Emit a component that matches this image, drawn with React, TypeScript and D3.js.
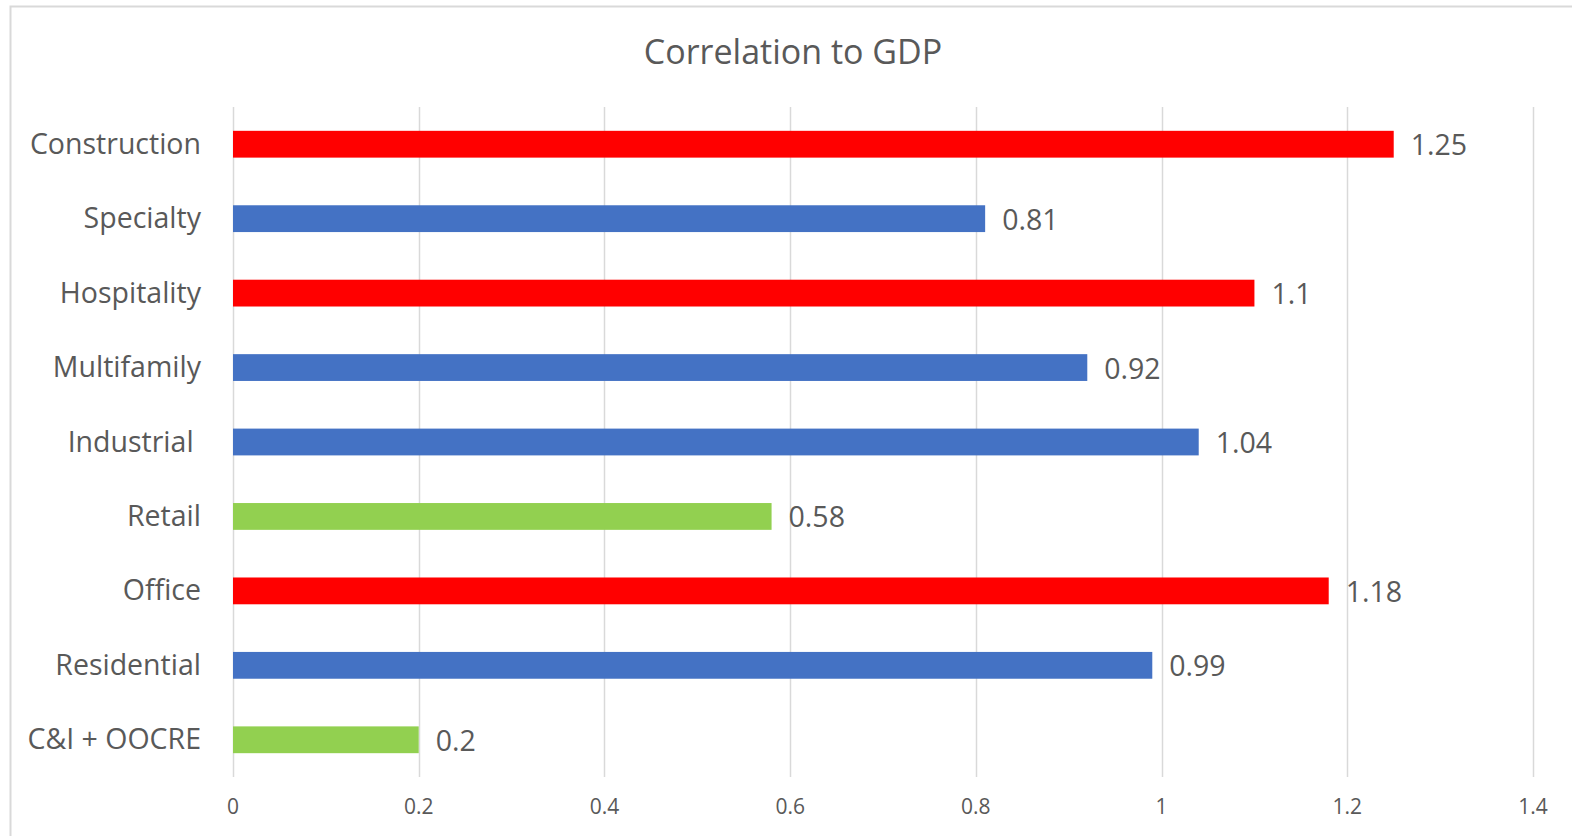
import React from "react";
import * as d3 from "d3";

const categories = [
  "Construction",
  "Specialty",
  "Hospitality",
  "Multifamily",
  "Industrial ",
  "Retail",
  "Office",
  "Residential",
  "C&I + OOCRE",
];
const values = [1.25, 0.81, 1.1, 0.92, 1.04, 0.58, 1.18, 0.99, 0.2];
const barColors = [
  "#FF0000",
  "#4472C4",
  "#FF0000",
  "#4472C4",
  "#4472C4",
  "#92D050",
  "#FF0000",
  "#4472C4",
  "#92D050",
];
const xTicks = [0, 0.2, 0.4, 0.6, 0.8, 1, 1.2, 1.4];

const W = 1572;
const H = 836;
const plot = { left: 233, right: 1533, top: 107, bottom: 777 };
const font = "'Open Sans', Lato, sans-serif";
const textColor = "#595959";
const labelSize = 28.5;

export default function App() {
  const x = d3.scaleLinear().domain([0, 1.4]).range([plot.left, plot.right]);
  const y = d3
    .scaleBand<string>()
    .domain(categories)
    .range([plot.top, plot.bottom])
    .paddingInner(0.64)
    .paddingOuter(0.32);

  return (
    <svg
      width={W}
      height={H}
      style={{ position: "absolute", left: 0, top: 0, background: "#fff" }}
      fontFamily={font}
    >
      <rect x={0} y={0} width={W} height={H} fill="#fff" />
      {/* chart frame */}
      <rect x={10.5} y={6.5} width={W} height={H} fill="none" stroke="#d9d9d9" strokeWidth={2} />
      <text x={793} y={64} textAnchor="middle" fontSize={34} fill={textColor}>
        Correlation to GDP
      </text>
      {/* vertical gridlines */}
      {xTicks.map((t) => (
        <line
          key={t}
          x1={Math.round(x(t)) + 0.5}
          x2={Math.round(x(t)) + 0.5}
          y1={plot.top}
          y2={plot.bottom}
          stroke="#d9d9d9"
          strokeWidth={1.5}
        />
      ))}
      {xTicks.map((t) => (
        <text
          key={"t" + t}
          x={x(t)}
          y={814}
          textAnchor="middle"
          fontSize={21}
          fill={textColor}
        >
          {String(t)}
        </text>
      ))}
      {categories.map((c, i) => {
        const yy = y(c)!;
        const bh = y.bandwidth();
        const cy = yy + bh / 2;
        return (
          <g key={c}>
            <rect x={x(0)} y={yy} width={x(values[i]) - x(0)} height={bh} fill={barColors[i]} />
            <text
              x={201}
              y={cy + 9.5}
              textAnchor="end"
              fontSize={labelSize}
              fill={textColor}
              style={{ whiteSpace: "pre" }}
            >
              {c}
            </text>
            <text
              x={x(values[i]) + 17}
              y={cy + 11}
              fontSize={labelSize}
              fill={textColor}
            >
              {String(values[i])}
            </text>
          </g>
        );
      })}
    </svg>
  );
}
